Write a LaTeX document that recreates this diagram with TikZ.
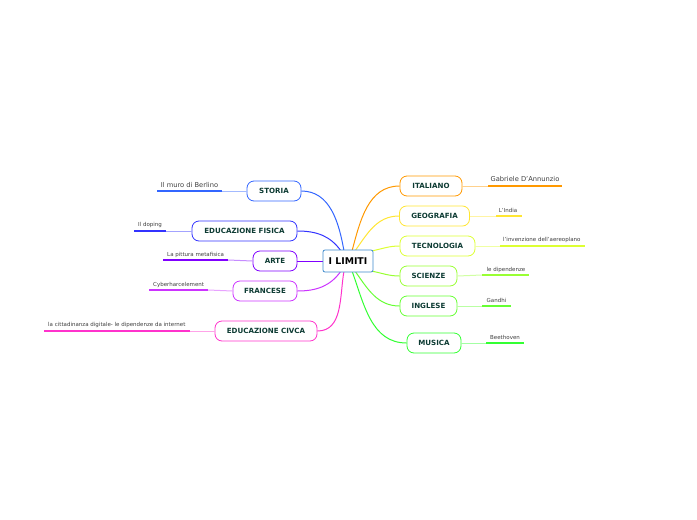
\documentclass[tikz,border=0pt]{standalone}
\usepackage{fontspec}
\setmainfont{DejaVu Sans}
\begin{document}
\begin{tikzpicture}[x=1pt,y=-1pt,
  topic/.style={draw=#1, line width=0.8pt, rounded corners=7pt, fill=white, minimum height=20pt, inner xsep=6pt, font=\fontsize{7.1}{8}\selectfont\bfseries, text=txt, anchor=center},
  leaftxt/.style={font=\fontsize{5.5}{6.5}\selectfont, text=black!75, inner sep=0pt},
  br/.style={draw=#1, line width=1pt},
  lt/.style={draw=#1!45, line width=1pt},
  dk/.style={draw=#1, line width=1.3pt}]
\definecolor{txt}{HTML}{0D3B33}
\definecolor{cstor}{HTML}{3366FF}
\definecolor{cfis}{HTML}{3333FF}
\definecolor{carte}{HTML}{8000FF}
\definecolor{cfra}{HTML}{CC33FF}
\definecolor{cciv}{HTML}{FF33CC}
\definecolor{cita}{HTML}{FF9900}
\definecolor{cgeo}{HTML}{FFE633}
\definecolor{ctec}{HTML}{DDFF33}
\definecolor{csci}{HTML}{99FF33}
\definecolor{cing}{HTML}{66FF33}
\definecolor{cmus}{HTML}{33FF33}
\definecolor{cctr}{HTML}{3D8ACC}
\useasboundingbox (0,0) rectangle (697,520);
\fill[white] (0,0) rectangle (697,520);

% coordinates on central box
\coordinate (cs) at (344,251);
\coordinate (cf) at (341,251);
\coordinate (ca) at (324,261);
\coordinate (cr) at (341,271);
\coordinate (cc) at (344,271);
\coordinate (ci) at (352,251);
\coordinate (cg) at (355,251);
\coordinate (ct) at (371,251);
\coordinate (csc) at (371,271);
\coordinate (cin) at (355,271);
\coordinate (cm) at (352,271);

% left topics
\node[topic=cstor, minimum width=54pt] (storia) at (274,191) {STORIA};
\node[topic=cfis, minimum width=105pt] (fis) at (244.5,231) {EDUCAZIONE FISICA};
\node[topic=carte, minimum width=44pt] (arte) at (275,261) {ARTE};
\node[topic=cfra, minimum width=64pt] (fra) at (265,291) {FRANCESE};
\node[topic=cciv, minimum width=102pt] (civ) at (266,331) {EDUCAZIONE CIVCA};

% right topics
\node[topic=cita, minimum width=62pt] (ita) at (431,186) {ITALIANO};
\node[topic=cgeo, minimum width=70pt] (geo) at (434.5,216) {GEOGRAFIA};
\node[topic=ctec, minimum width=75pt] (tec) at (437.5,246) {TECNOLOGIA};
\node[topic=csci, minimum width=57pt] (sci) at (428.5,276) {SCIENZE};
\node[topic=cing, minimum width=57pt] (ing) at (428.5,306) {INGLESE};
\node[topic=cmus, minimum width=54pt] (mus) at (434,343) {MUSICA};

% branches
\draw[br=cstor] (cs) to[out=100,in=0] (storia.east);
\draw[br=cfis] (cf) to[out=125,in=0] (fis.east);
\draw[br=carte] (ca) -- (arte.east);
\draw[br=cfra] (cr) to[out=-125,in=0] (fra.east);
\draw[br=cciv] (cc) to[out=-100,in=0] (civ.east);
\draw[br=cita] (ci) to[out=75,in=180] (ita.west);
\draw[br=cgeo] (cg) to[out=55,in=180] (geo.west);
\draw[br=ctec] (ct) to[out=10,in=180] (tec.west);
\draw[br=csci] (csc) to[out=-10,in=180] (sci.west);
\draw[br=cing] (cin) to[out=-55,in=180] (ing.west);
\draw[br=cmus] (cm) to[out=-70,in=180] (mus.west);

% centre
\node[draw=cctr, line width=0.8pt, rounded corners=2pt, fill=white, minimum width=50pt, minimum height=22pt, font=\fontsize{9.3}{10}\selectfont\bfseries, inner xsep=2pt] (c) at (348,261) {I LIMITI};

% leaves left
\coordinate (ls1) at (222,191); \coordinate (ls0) at (157,191);
\draw[lt=cstor] (storia.west) -- (ls1); \draw[dk=cstor] (ls1) -- (ls0);
\node[leaftxt, font=\fontsize{6.7}{7.5}\selectfont, anchor=south] (tstor) at (189.5,188) {Il muro di Berlino};

\coordinate (lf1) at (166,231); \coordinate (lf0) at (134,231);
\draw[lt=cfis] (fis.west) -- (lf1); \draw[dk=cfis] (lf1) -- (lf0);
\node[leaftxt, anchor=south west] (tfis) at (138,228) {Il doping};

\coordinate (la1) at (228,260); \coordinate (la0) at (163,260);
\draw[lt=carte] (arte.west) -- (la1); \draw[dk=carte] (la1) -- (la0);
\node[leaftxt, anchor=south west] (tarte) at (167,257.5) {La pittura metafisica};

\coordinate (lr1) at (208,290); \coordinate (lr0) at (149,290);
\draw[lt=cfra] (fra.west) -- (lr1); \draw[dk=cfra] (lr1) -- (lr0);
\node[leaftxt, anchor=south west] (tfra) at (153,287.5) {Cyberharcelement};

\coordinate (lc1) at (190,331); \coordinate (lc0) at (44,331);
\draw[lt=cciv] (civ.west) -- (lc1); \draw[dk=cciv] (lc1) -- (lc0);
\node[leaftxt, anchor=south west] (tciv) at (48,327.5) {la cittadinanza digitale- le dipendenze da internet};

% leaves right
\coordinate (ri1) at (488,186); \coordinate (ri2) at (562,186);
\draw[lt=cita] (ita.east) -- (ri1); \draw[dk=cita] (ri1) -- (ri2);
\node[leaftxt, font=\fontsize{6.7}{7.5}\selectfont, anchor=south] (tita) at (525,182) {Gabriele D'Annunzio};

\coordinate (rg1) at (496,216); \coordinate (rg2) at (522,216);
\draw[lt=cgeo] (geo.east) -- (rg1); \draw[dk=cgeo] (rg1) -- (rg2);
\node[leaftxt, anchor=south] (tgeo) at (508,213) {L'India};

\coordinate (rt1) at (500,246); \coordinate (rt2) at (585,246);
\draw[lt=ctec] (tec.east) -- (rt1); \draw[dk=ctec] (rt1) -- (rt2);
\node[leaftxt, anchor=south west] (ttec) at (503,243) {l'invenzione dell'aereoplano};

\coordinate (rs1) at (482,275); \coordinate (rs2) at (529,275);
\draw[lt=csci] (sci.east) -- (rs1); \draw[dk=csci] (rs1) -- (rs2);
\node[leaftxt, anchor=south west] (tsci) at (486.5,272.5) {le dipendenze};

\coordinate (rn1) at (482,306); \coordinate (rn2) at (511,306);
\draw[lt=cing] (ing.east) -- (rn1); \draw[dk=cing] (rn1) -- (rn2);
\node[leaftxt, anchor=south west] (ting) at (486.5,303) {Gandhi};

\coordinate (rm1) at (486,343); \coordinate (rm2) at (524,343);
\draw[lt=cmus] (mus.east) -- (rm1); \draw[dk=cmus] (rm1) -- (rm2);
\node[leaftxt, anchor=south west] (tmus) at (490,340) {Beethoven};
\end{tikzpicture}
\end{document}
